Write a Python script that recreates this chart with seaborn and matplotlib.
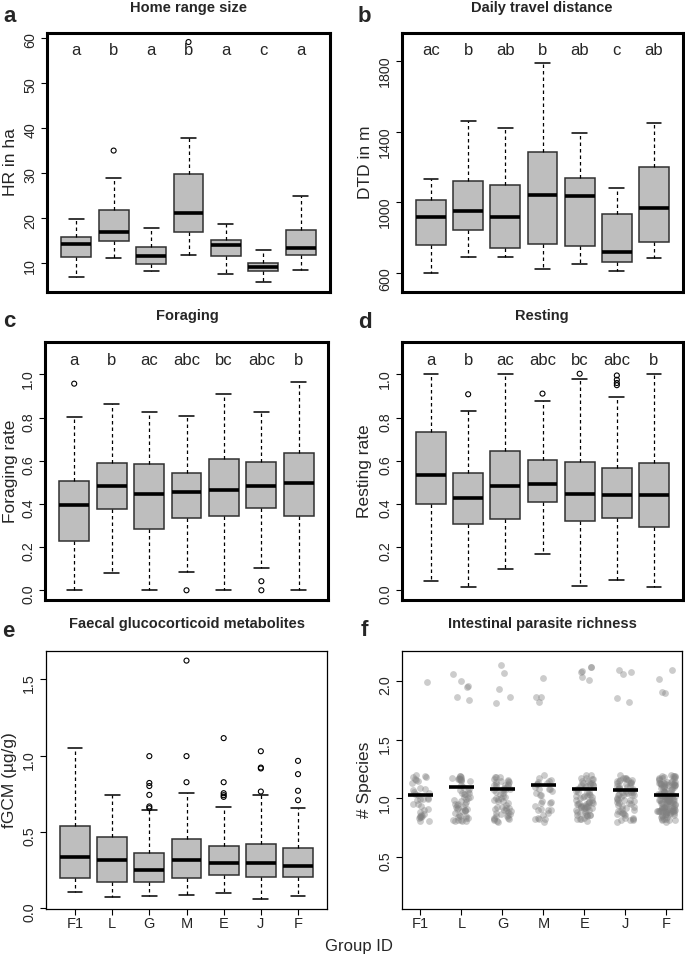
import numpy as np
import pandas as pd
import seaborn as sns
import matplotlib.pyplot as plt

groups = ['F1', 'L', 'G', 'M', 'E', 'J', 'F']

# box summaries per group: lower whisker, Q1, median, Q3, upper whisker
hr_box = [[6.9, 11.3, 14.2, 15.9, 19.8],
          [11.1, 14.9, 16.9, 21.8, 28.8],
          [8.2, 9.9, 11.6, 13.6, 17.7],
          [11.9, 16.9, 21.1, 29.8, 37.8],
          [7.5, 11.6, 14.1, 15.1, 18.6],
          [5.9, 8.2, 9.2, 10.1, 12.9],
          [8.5, 11.8, 13.4, 17.3, 25.0]]
hr_out = [('L', 35.0), ('M', 59.1)]
hr_letters = ['a', 'b', 'a', 'b', 'a', 'c', 'a']

dtd_box = [[600, 761, 916, 1012, 1133],
           [693, 842, 950, 1120, 1460],
           [693, 744, 916, 1097, 1418],
           [623, 763, 1042, 1286, 1790],
           [651, 753, 1033, 1139, 1394],
           [611, 660, 719, 936, 1080],
           [683, 776, 969, 1201, 1450]]
dtd_out = []
dtd_letters = ['ac', 'b', 'ab', 'b', 'ab', 'c', 'ab']

forage_box = [[0.0, 0.226, 0.395, 0.508, 0.803],
              [0.08, 0.378, 0.483, 0.588, 0.862],
              [0.0, 0.285, 0.445, 0.583, 0.825],
              [0.086, 0.337, 0.455, 0.542, 0.809],
              [0.0, 0.345, 0.465, 0.609, 0.909],
              [0.102, 0.382, 0.483, 0.594, 0.826],
              [0.0, 0.345, 0.495, 0.637, 0.963]]
forage_out = [('F1', 0.957), ('M', 0.0), ('J', 0.042), ('J', 0.0)]
behav_letters = ['a', 'b', 'ac', 'abc', 'bc', 'abc', 'b']

rest_box = [[0.043, 0.398, 0.532, 0.731, 1.0],
            [0.015, 0.308, 0.428, 0.542, 0.831],
            [0.097, 0.331, 0.485, 0.645, 1.0],
            [0.169, 0.408, 0.492, 0.603, 0.878],
            [0.018, 0.323, 0.448, 0.592, 0.98],
            [0.049, 0.337, 0.443, 0.568, 0.895],
            [0.014, 0.291, 0.443, 0.588, 1.0]]
rest_out = [('L', 0.908), ('M', 0.911), ('E', 1.003),
            ('J', 0.995), ('J', 0.975), ('J', 0.96), ('J', 0.95)]

fgcm_box = [[0.105, 0.194, 0.332, 0.537, 1.046],
            [0.072, 0.172, 0.314, 0.469, 0.742],
            [0.081, 0.168, 0.247, 0.358, 0.640],
            [0.087, 0.200, 0.312, 0.450, 0.753],
            [0.100, 0.214, 0.293, 0.406, 0.664],
            [0.057, 0.205, 0.297, 0.419, 0.740],
            [0.076, 0.207, 0.279, 0.397, 0.657]]
fgcm_out = [('G', 0.996), ('G', 0.82), ('G', 0.80), ('G', 0.742), ('G', 0.666), ('G', 0.655),
            ('M', 1.622), ('M', 0.996), ('M', 0.825),
            ('E', 1.114), ('E', 0.825), ('E', 0.753), ('E', 0.74), ('E', 0.729),
            ('J', 1.028), ('J', 0.921), ('J', 0.915), ('J', 0.764),
            ('F', 0.965), ('F', 0.878), ('F', 0.769), ('F', 0.707)]

# parasite richness: samples with 1 and with 2 species per group
n_one_species = [35, 54, 57, 32, 69, 66, 129]
n_two_species = [1, 6, 5, 4, 6, 5, 4]

sns.set_style('ticks')
plt.rcParams['font.family'] = ['Liberation Sans', 'DejaVu Sans']

W, H = 685, 955
fig = plt.figure(figsize=(W / 100, H / 100), dpi=100)


def px_axes(left, top, right, bottom):
    ax = fig.add_axes([left / W, 1 - bottom / H, (right - left) / W, (bottom - top) / H])
    ax._px = (left, right)
    return ax


def place_ylabel(ax, text, xpx):
    left, right = ax._px
    ax.set_ylabel(text, fontsize=12.5)
    ax.yaxis.set_label_coords((xpx - left) / (right - left), 0.5)
    ax.yaxis.label.set_va('center')


def box_panel(ax, box, out, ylim, yticks):
    long = pd.DataFrame([(g, v) for g, row in zip(groups, box) for v in row],
                        columns=['group', 'value'])
    sns.boxplot(data=long, x='group', y='value', order=groups, ax=ax,
                whis=(0, 100), showfliers=False, width=0.8, color='#bebebe',
                saturation=1, linecolor='#303030', linewidth=1.1,
                medianprops=dict(color='black', linewidth=2.6),
                whiskerprops=dict(color='black', linewidth=0.9, linestyle=(0, (2.8, 2.4))),
                capprops=dict(color='black', linewidth=1.1))
    if out:
        odf = pd.DataFrame(out, columns=['group', 'value'])
        sns.stripplot(data=odf, x='group', y='value', order=groups, ax=ax,
                      jitter=False, size=3.6, marker='o', facecolor='none',
                      edgecolor='black', linewidth=0.8)
    ax.set_xlim(-0.78, 6.78)
    ax.set_ylim(*ylim)
    ax.set_yticks(yticks)
    ax.set_xlabel('')
    ax.tick_params(axis='y', direction='out', length=4, width=0.8, labelsize=10.3,
                   pad=3, labelrotation=90, color='black')


def letters(ax, labs, y):
    for i, lab in enumerate(labs):
        ax.text(i, y, lab, ha='center', va='center', fontsize=12)


def frame(ax, lw):
    for s in ax.spines.values():
        s.set_visible(True)
        s.set_linewidth(lw)
        s.set_color('black')


ax_a = px_axes(47, 33, 330, 292)
box_panel(ax_a, hr_box, hr_out, (3.6, 61.1), [10, 20, 30, 40, 50, 60])
place_ylabel(ax_a, 'HR in ha', 11)
letters(ax_a, hr_letters, 57.2)
ax_a.set_xticks([])
frame(ax_a, 2.2)

ax_b = px_axes(402, 33, 683, 292)
box_panel(ax_b, dtd_box, dtd_out, (493, 1957), [600, 1000, 1400, 1800])
place_ylabel(ax_b, 'DTD in m', 365)
letters(ax_b, dtd_letters, 1859)
ax_b.set_xticks([])
frame(ax_b, 2.2)

ax_c = px_axes(45, 342, 328, 600)
box_panel(ax_c, forage_box, forage_out, (-0.045, 1.15), np.arange(0, 1.01, 0.2))
place_ylabel(ax_c, 'Foraging rate', 11)
letters(ax_c, behav_letters, 1.065)
ax_c.set_xticks([])
frame(ax_c, 2.2)

ax_d = px_axes(402, 342, 683, 600)
box_panel(ax_d, rest_box, rest_out, (-0.045, 1.15), np.arange(0, 1.01, 0.2))
place_ylabel(ax_d, 'Resting rate', 365)
letters(ax_d, behav_letters, 1.065)
ax_d.set_xticks([])
frame(ax_d, 2.2)

ax_e = px_axes(46, 651, 327, 909)
box_panel(ax_e, fgcm_box, fgcm_out, (-0.006, 1.685), [0.0, 0.5, 1.0, 1.5])
place_ylabel(ax_e, 'fGCM (µg/g)', 10)
ax_e.set_xticks(range(len(groups)))
ax_e.set_xticklabels(groups)
ax_e.tick_params(axis='x', direction='out', length=4, width=0.8, labelsize=10.5, pad=2, color='black')
frame(ax_e, 0.9)

# panel f: jittered species counts with group means
rows = []
for g, a, b in zip(groups, n_one_species, n_two_species):
    rows += [(g, 1)] * a + [(g, 2)] * b
rich = pd.DataFrame(rows, columns=['group', 'species'])
rich['pos'] = rich['group'].map({g: i for i, g in enumerate(groups)})

ax_f = px_axes(402, 651, 682, 909)
np.random.seed(7)
sns.regplot(data=rich, x='pos', y='species', ax=ax_f, fit_reg=False,
            x_jitter=0.22, y_jitter=0.2, color='grey',
            scatter_kws=dict(s=24, alpha=0.4, linewidths=0))
means = rich.groupby('pos')['species'].mean()
ax_f.hlines(means.values, means.index - 0.3, means.index + 0.3, color='black', lw=2.6)
ax_f.set_xlim(-0.45, 6.38)
ax_f.set_ylim(0.056, 2.256)
ax_f.set_yticks([0.5, 1.0, 1.5, 2.0])
ax_f.set_xticks(range(len(groups)))
ax_f.set_xticklabels(groups)
ax_f.set_xlabel('')
place_ylabel(ax_f, '# Species', 364)
ax_f.tick_params(axis='y', direction='out', length=4, width=0.8, labelsize=10.3,
                 pad=3, labelrotation=90, color='black')
ax_f.tick_params(axis='x', direction='out', length=4, width=0.8, labelsize=10.5, pad=2, color='black')
frame(ax_f, 0.9)

titles = [('Home range size', 188, 8), ('Daily travel distance', 542, 8),
          ('Foraging', 187, 316), ('Resting', 542, 316),
          ('Faecal glucocorticoid metabolites', 187, 624),
          ('Intestinal parasite richness', 542, 624)]
for t, x, y in titles:
    fig.text(x / W, 1 - y / H, t, ha='center', va='center', fontsize=10.5, fontweight='bold')

tags = [('a', 3, 22), ('b', 358, 22), ('c', 3, 327), ('d', 358, 328),
        ('e', 2, 637), ('f', 361, 636)]
for t, x, y in tags:
    fig.text(x / W, 1 - y / H, t, ha='left', va='baseline', fontsize=16, fontweight='bold')

fig.text(359 / W, 1 - 946 / H, 'Group ID', ha='center', va='center', fontsize=12)

fig.savefig('out.png', dpi=100)
